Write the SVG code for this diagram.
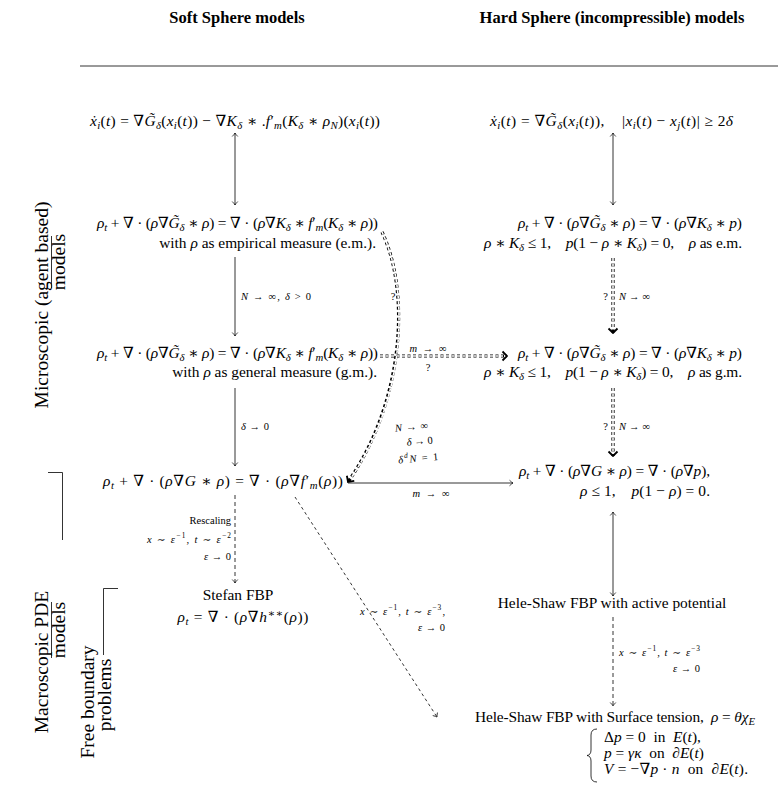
<svg xmlns="http://www.w3.org/2000/svg" width="778" height="791" viewBox="0 0 778 791">
<style>
.t{font-family:"Liberation Serif","DejaVu Serif",serif;font-size:15.4px;fill:#000}
.h{font-family:"Liberation Serif","DejaVu Serif",serif;font-size:16.5px;font-weight:bold;fill:#000}
.s{font-family:"Liberation Serif","DejaVu Serif",serif;font-size:10.5px;fill:#000}
.lab{font-family:"Liberation Serif","DejaVu Serif",serif;font-size:19.5px;fill:#000}
.i{font-style:italic}
.sb{font-size:70%;baseline-shift:-3px}
.sp{font-size:70%;baseline-shift:5px}
.ln{stroke:#000;stroke-width:0.8;fill:none}
.dash{stroke:#000;stroke-width:0.8;fill:none;stroke-dasharray:4 3}
.dbl{stroke:#000;stroke-width:3.2;fill:none;stroke-dasharray:3 2.5}
.dblw{stroke:#fff;stroke-width:1.6;fill:none;stroke-dasharray:3 2.5}
</style>
<defs>
<marker id="a" viewBox="-5 -4 6 8" refX="0" refY="0" markerWidth="6" markerHeight="8" markerUnits="userSpaceOnUse" orient="auto-start-reverse">
<path d="M-3.5,-2.8 Q-1.2,-0.6 0,0 Q-1.2,0.6 -3.5,2.8" stroke="#000" stroke-width="0.7" fill="none"/>
</marker>
<marker id="b" viewBox="-7 -6 8 12" refX="0" refY="0" markerWidth="8" markerHeight="12" markerUnits="userSpaceOnUse" orient="auto">
<path d="M-4.5,-4.5 L0,0 L-4.5,4.5" stroke="#000" stroke-width="1.8" fill="none"/>
</marker>
</defs>

<g id="headers">
<text class="h" x="237" y="23" text-anchor="middle">Soft Sphere models</text>
<text class="h" x="612" y="23" text-anchor="middle">Hard Sphere (incompressible) models</text>
<line class="ln" x1="80" y1="66" x2="778" y2="66"/>
</g>

<g id="side-labels">
<text class="lab" transform="translate(48,305) rotate(-90)" text-anchor="middle">Microscopic (agent based)</text>
<text class="lab" transform="translate(65,262) rotate(-90)" text-anchor="middle">models</text>
<line class="ln" x1="51.5" y1="236" x2="51.5" y2="288"/>
<text class="lab" transform="translate(48,662) rotate(-90)" text-anchor="middle">Macroscopic PDE</text>
<text class="lab" transform="translate(65,630) rotate(-90)" text-anchor="middle">models</text>
<path class="ln" d="M48,472.5 H62.5 V540"/>
<line class="ln" x1="51.5" y1="602" x2="51.5" y2="658"/>
<text class="lab" transform="translate(94,702) rotate(-90)" text-anchor="middle">Free boundary</text>
<text class="lab" transform="translate(111,695) rotate(-90)" text-anchor="middle">problems</text>
<path class="ln" d="M118,588.5 H103.5 V655"/>
</g>

<g id="soft-particles">
<text class="t" x="235" y="126" text-anchor="middle" textLength="290" lengthAdjust="spacing"><tspan class="i">ẋ</tspan><tspan class="sb i">i</tspan>(<tspan class="i">t</tspan>) = ∇<tspan class="i">G̃</tspan><tspan class="sb i">δ</tspan>(<tspan class="i">x</tspan><tspan class="sb i">i</tspan>(<tspan class="i">t</tspan>)) − ∇<tspan class="i">K</tspan><tspan class="sb i">δ</tspan> ∗ .<tspan class="i">f</tspan>′<tspan class="sb i">m</tspan>(<tspan class="i">K</tspan><tspan class="sb i">δ</tspan> ∗ <tspan class="i">ρ</tspan><tspan class="sb i">N</tspan>)(<tspan class="i">x</tspan><tspan class="sb i">i</tspan>(<tspan class="i">t</tspan>))</text>
</g>

<g id="soft-em">
<text class="t" x="378" y="228" text-anchor="end" textLength="281" lengthAdjust="spacing"><tspan class="i">ρ</tspan><tspan class="sb i">t</tspan> + ∇ · (<tspan class="i">ρ</tspan>∇<tspan class="i">G̃</tspan><tspan class="sb i">δ</tspan> ∗ <tspan class="i">ρ</tspan>) = ∇ · (<tspan class="i">ρ</tspan>∇<tspan class="i">K</tspan><tspan class="sb i">δ</tspan> ∗ <tspan class="i">f</tspan>′<tspan class="sb i">m</tspan>(<tspan class="i">K</tspan><tspan class="sb i">δ</tspan> ∗ <tspan class="i">ρ</tspan>))</text>
<text class="t" x="376" y="248" text-anchor="end">with <tspan class="i">ρ</tspan> as empirical measure (e.m.).</text>
</g>

<g id="soft-gm">
<text class="t" x="378" y="358" text-anchor="end" textLength="281" lengthAdjust="spacing"><tspan class="i">ρ</tspan><tspan class="sb i">t</tspan> + ∇ · (<tspan class="i">ρ</tspan>∇<tspan class="i">G̃</tspan><tspan class="sb i">δ</tspan> ∗ <tspan class="i">ρ</tspan>) = ∇ · (<tspan class="i">ρ</tspan>∇<tspan class="i">K</tspan><tspan class="sb i">δ</tspan> ∗ <tspan class="i">f</tspan>′<tspan class="sb i">m</tspan>(<tspan class="i">K</tspan><tspan class="sb i">δ</tspan> ∗ <tspan class="i">ρ</tspan>))</text>
<text class="t" x="377" y="377" text-anchor="end">with <tspan class="i">ρ</tspan> as general measure (g.m.).</text>
</g>

<g id="soft-pde">
<text class="t" x="343" y="486" text-anchor="end" textLength="240" lengthAdjust="spacing"><tspan class="i">ρ</tspan><tspan class="sb i">t</tspan> + ∇ · (<tspan class="i">ρ</tspan>∇<tspan class="i">G</tspan> ∗ <tspan class="i">ρ</tspan>) = ∇ · (<tspan class="i">ρ</tspan>∇<tspan class="i">f</tspan>′<tspan class="sb i">m</tspan>(<tspan class="i">ρ</tspan>))</text>
</g>

<g id="stefan">
<text class="t" x="238" y="600" text-anchor="middle">Stefan FBP</text>
<text class="t" x="243" y="622" text-anchor="middle" textLength="131" lengthAdjust="spacing"><tspan class="i">ρ</tspan><tspan class="sb i">t</tspan> = ∇ · (<tspan class="i">ρ</tspan>∇<tspan class="i">h</tspan><tspan class="sp">∗∗</tspan>(<tspan class="i">ρ</tspan>))</text>
</g>

<g id="hard-particles">
<text class="t" x="490" y="126" textLength="243" lengthAdjust="spacing" xml:space="preserve"><tspan class="i">ẋ</tspan><tspan class="sb i">i</tspan>(<tspan class="i">t</tspan>) = ∇<tspan class="i">G̃</tspan><tspan class="sb i">δ</tspan>(<tspan class="i">x</tspan><tspan class="sb i">i</tspan>(<tspan class="i">t</tspan>)),    |<tspan class="i">x</tspan><tspan class="sb i">i</tspan>(<tspan class="i">t</tspan>) − <tspan class="i">x</tspan><tspan class="sb i">j</tspan>(<tspan class="i">t</tspan>)| ≥ 2<tspan class="i">δ</tspan></text>
</g>

<g id="hard-em">
<text class="t" x="742" y="228" text-anchor="end" textLength="224" lengthAdjust="spacing"><tspan class="i">ρ</tspan><tspan class="sb i">t</tspan> + ∇ · (<tspan class="i">ρ</tspan>∇<tspan class="i">G̃</tspan><tspan class="sb i">δ</tspan> ∗ <tspan class="i">ρ</tspan>) = ∇ · (<tspan class="i">ρ</tspan>∇<tspan class="i">K</tspan><tspan class="sb i">δ</tspan> ∗ <tspan class="i">p</tspan>)</text>
<text class="t" x="742" y="248" text-anchor="end" textLength="258" lengthAdjust="spacing" xml:space="preserve"><tspan class="i">ρ</tspan> ∗ <tspan class="i">K</tspan><tspan class="sb i">δ</tspan> ≤ 1,    <tspan class="i">p</tspan>(1 − <tspan class="i">ρ</tspan> ∗ <tspan class="i">K</tspan><tspan class="sb i">δ</tspan>) = 0,    <tspan class="i">ρ</tspan> as e.m.</text>
</g>

<g id="hard-gm">
<text class="t" x="742" y="358" text-anchor="end" textLength="224" lengthAdjust="spacing"><tspan class="i">ρ</tspan><tspan class="sb i">t</tspan> + ∇ · (<tspan class="i">ρ</tspan>∇<tspan class="i">G̃</tspan><tspan class="sb i">δ</tspan> ∗ <tspan class="i">ρ</tspan>) = ∇ · (<tspan class="i">ρ</tspan>∇<tspan class="i">K</tspan><tspan class="sb i">δ</tspan> ∗ <tspan class="i">p</tspan>)</text>
<text class="t" x="742" y="377" text-anchor="end" textLength="258" lengthAdjust="spacing" xml:space="preserve"><tspan class="i">ρ</tspan> ∗ <tspan class="i">K</tspan><tspan class="sb i">δ</tspan> ≤ 1,    <tspan class="i">p</tspan>(1 − <tspan class="i">ρ</tspan> ∗ <tspan class="i">K</tspan><tspan class="sb i">δ</tspan>) = 0,    <tspan class="i">ρ</tspan> as g.m.</text>
</g>

<g id="hard-pde">
<text class="t" x="710" y="476" text-anchor="end" textLength="191" lengthAdjust="spacing"><tspan class="i">ρ</tspan><tspan class="sb i">t</tspan> + ∇ · (<tspan class="i">ρ</tspan>∇<tspan class="i">G</tspan> ∗ <tspan class="i">ρ</tspan>) = ∇ · (<tspan class="i">ρ</tspan>∇<tspan class="i">p</tspan>),</text>
<text class="t" x="710" y="496" text-anchor="end" textLength="130" lengthAdjust="spacing" xml:space="preserve"><tspan class="i">ρ</tspan> ≤ 1,    <tspan class="i">p</tspan>(1 − <tspan class="i">ρ</tspan>) = 0.</text>
</g>

<g id="hele-shaw-active">
<text class="t" x="612" y="608" text-anchor="middle">Hele-Shaw FBP with active potential</text>
</g>

<g id="hele-shaw-surface">
<text class="t" x="475" y="722" textLength="280" lengthAdjust="spacing" xml:space="preserve">Hele-Shaw FBP with Surface tension,  <tspan class="i">ρ</tspan> = <tspan class="i">θχ</tspan><tspan class="sb i">E</tspan></text>
<path class="ln" stroke-width="1.2" d="M597,729 Q591,729 591,735 V750 Q591,755 587,755.5 Q591,756 591,761 V776 Q591,782 597,782"/>
<text class="t" x="604" y="742" xml:space="preserve">Δ<tspan class="i">p</tspan> = 0  in  <tspan class="i">E</tspan>(<tspan class="i">t</tspan>),</text>
<text class="t" x="604" y="758" xml:space="preserve"><tspan class="i">p</tspan> = <tspan class="i">γκ</tspan>  on  ∂<tspan class="i">E</tspan>(<tspan class="i">t</tspan>)</text>
<text class="t" x="604" y="774" textLength="144" lengthAdjust="spacing" xml:space="preserve"><tspan class="i">V</tspan> = −∇<tspan class="i">p</tspan> · <tspan class="i">n</tspan>  on  ∂<tspan class="i">E</tspan>(<tspan class="i">t</tspan>).</text>
</g>

<g id="connectors">
<line class="ln" x1="235" y1="133" x2="235" y2="205" marker-start="url(#a)" marker-end="url(#a)"/>
<line class="ln" x1="235" y1="257" x2="235" y2="336" marker-end="url(#a)"/>
<text class="s" x="241" y="300" textLength="70" lengthAdjust="spacing"><tspan class="i">N</tspan> → ∞, <tspan class="i">δ</tspan> &gt; 0</text>
<line class="ln" x1="235" y1="388" x2="235" y2="466" marker-end="url(#a)"/>
<text class="s" x="241" y="430" textLength="28" lengthAdjust="spacing"><tspan class="i">δ</tspan> → 0</text>
<line class="dash" x1="235" y1="495" x2="235" y2="583" marker-end="url(#a)"/>
<text class="s" x="231" y="524" text-anchor="end">Rescaling</text>
<text class="s" x="231" y="543" text-anchor="end" textLength="84" lengthAdjust="spacing"><tspan class="i">x</tspan> ∼ <tspan class="i">ε</tspan><tspan class="sp">−1</tspan>, <tspan class="i">t</tspan> ∼ <tspan class="i">ε</tspan><tspan class="sp">−2</tspan></text>
<text class="s" x="231" y="560" text-anchor="end" textLength="27" lengthAdjust="spacing"><tspan class="i">ε</tspan> → 0</text>
<line class="ln" x1="295" y1="497" x2="437" y2="717" stroke-dasharray="3 3" marker-end="url(#a)"/>
<text class="s" x="445" y="615" text-anchor="end" textLength="85" lengthAdjust="spacing"><tspan class="i">x</tspan> ∼ <tspan class="i">ε</tspan><tspan class="sp">−1</tspan>, <tspan class="i">t</tspan> ∼ <tspan class="i">ε</tspan><tspan class="sp">−3</tspan>,</text>
<text class="s" x="445" y="631" text-anchor="end" textLength="27" lengthAdjust="spacing"><tspan class="i">ε</tspan> → 0</text>

<line class="ln" x1="613" y1="133" x2="613" y2="205" marker-start="url(#a)" marker-end="url(#a)"/>
<line class="dbl" x1="613" y1="258" x2="613" y2="333" marker-end="url(#b)"/>
<line class="dblw" x1="613" y1="258" x2="613" y2="329"/>
<text class="s" x="608" y="300" text-anchor="end">?</text>
<text class="s" x="619" y="300" textLength="31" lengthAdjust="spacing"><tspan class="i">N</tspan> → ∞</text>
<line class="dbl" x1="613" y1="388" x2="613" y2="456" marker-end="url(#b)"/>
<line class="dblw" x1="613" y1="388" x2="613" y2="452"/>
<text class="s" x="608" y="430" text-anchor="end">?</text>
<text class="s" x="619" y="430" textLength="31" lengthAdjust="spacing"><tspan class="i">N</tspan> → ∞</text>
<line class="ln" x1="613" y1="512" x2="613" y2="596" marker-start="url(#a)" marker-end="url(#a)"/>
<line class="dash" x1="613" y1="617" x2="613" y2="706" marker-end="url(#a)"/>
<text class="s" x="619" y="656" textLength="81" lengthAdjust="spacing"><tspan class="i">x</tspan> ∼ <tspan class="i">ε</tspan><tspan class="sp">−1</tspan>, <tspan class="i">t</tspan> ∼ <tspan class="i">ε</tspan><tspan class="sp">−3</tspan></text>
<text class="s" x="700" y="672" text-anchor="end" textLength="27" lengthAdjust="spacing"><tspan class="i">ε</tspan> → 0</text>

<line class="ln" x1="348" y1="483" x2="513" y2="483" marker-end="url(#a)"/>
<text class="s" x="431" y="497" text-anchor="middle" textLength="37" lengthAdjust="spacing"><tspan class="i">m</tspan> → ∞</text>
<line class="dbl" x1="380" y1="356" x2="507" y2="356" marker-end="url(#b)"/>
<line class="dblw" x1="380" y1="356" x2="503" y2="356"/>
<text class="s" x="428" y="352" text-anchor="middle" textLength="37" lengthAdjust="spacing"><tspan class="i">m</tspan> → ∞</text>
<text class="s" x="428" y="371" text-anchor="middle">?</text>

<path class="dbl" d="M382,232 C410,290 405,400 348,482" marker-end="url(#b)"/>
<path class="dblw" d="M382,232 C410,290 406,398 351,478"/>
<text class="s" x="393" y="300" text-anchor="middle">?</text>
<g transform="rotate(-5 415 445)">
<text class="s" x="413" y="430" text-anchor="middle" textLength="33" lengthAdjust="spacing"><tspan class="i">N</tspan> → ∞</text>
<text class="s" x="420" y="445" text-anchor="middle" textLength="26" lengthAdjust="spacing"><tspan class="i">δ</tspan> → 0</text>
<text class="s" x="417" y="462" text-anchor="middle" textLength="40" lengthAdjust="spacing"><tspan class="i">δ</tspan><tspan class="sp i">d</tspan><tspan class="i">N</tspan> = 1</text>
</g>
</g>
</svg>
